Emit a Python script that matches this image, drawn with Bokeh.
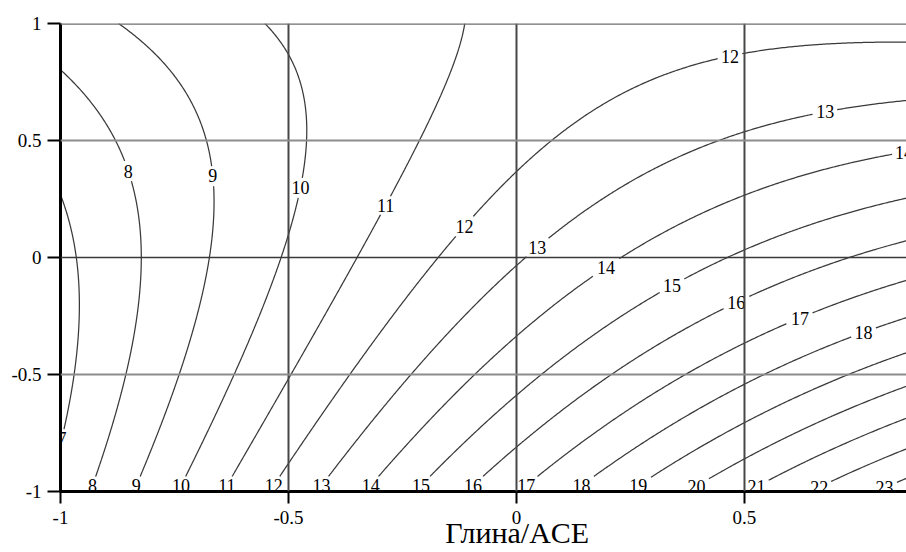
import numpy as np
import contourpy

from bokeh.plotting import figure
from bokeh.models import Range1d, Span, FixedTicker
from bokeh.core.properties import value
from bokeh.embed import file_html
from bokeh.resources import INLINE

# Response surface z = b0 + b1*x + b2*y + b11*x^2 + b22*y^2 + b12*x*y
coef_names = ["b0", "b1", "b2", "b11", "b22", "b12"]
coef_values = [12.90, 5.05, -2.88, -1.10, 1.17, -3.50]

contour_levels = list(range(7, 24))
x_ticks = [-1, -0.5, 0, 0.5]
y_ticks = [-1, -0.5, 0, 0.5, 1]
x_tick_labels = ["-1", "-0.5", "0", "0.5"]
y_tick_labels = ["-1", "-0.5", "0", "0.5", "1"]
x_title = "Глина/ACE"

# model domain and the visible window onto it
DOM_X = (-1.0, 1.0)
DOM_Y = (-1.0, 1.0)
X_MIN, X_MAX = -1.0, 0.8553
Y_MIN, Y_MAX = -1.0, 1.0

W, H = 906, 552
B_LEFT, B_RIGHT, B_TOP, B_BOTTOM = 60, 0, 23, 61
kx = (W - B_LEFT - B_RIGHT) / (X_MAX - X_MIN)   # px per x unit
ky = (H - B_TOP - B_BOTTOM) / (Y_MAX - Y_MIN)   # px per y unit

SERIF = "Liberation Serif"
LABEL_PX = 18          # contour label font size
TICK_PX = 19           # tick label font size
TITLE_PX = 30          # axis title font size
LABEL_STEP = 322.0     # spacing of labels along a contour, px
GAP = 3.0              # clearance round a label, px

# ---- surface on a fine grid -------------------------------------------------
c = dict(zip(coef_names, coef_values))
gx = np.linspace(DOM_X[0], DOM_X[1], 520)
gy = np.linspace(DOM_Y[0], DOM_Y[1], 280)
GX, GY = np.meshgrid(gx, gy)
Z = (c["b0"] + c["b1"] * GX + c["b2"] * GY + c["b11"] * GX ** 2
     + c["b22"] * GY ** 2 + c["b12"] * GX * GY)

gen = contourpy.contour_generator(GX, GY, Z, line_type="Separate")


def to_px(xs, ys):
    return (xs - X_MIN) * kx, (ys - Y_MIN) * ky


line_xs, line_ys = [], []
lab_x, lab_y, lab_t = [], [], []

for lev in contour_levels:
    text = str(lev)
    hw = 0.25 * LABEL_PX * len(text)
    hh = 0.33 * LABEL_PX
    for path in gen.lines(lev):
        path = np.asarray(path)
        if len(path) < 2:
            continue
        # trace every line from its lower end
        if path[0, 1] > path[-1, 1]:
            path = path[::-1]
        px, py = to_px(path[:, 0], path[:, 1])
        s = np.concatenate([[0.0], np.cumsum(np.hypot(np.diff(px), np.diff(py)))])

        j = min(int(np.searchsorted(s, 10.0)), len(s) - 1)
        dx, dy = px[j] - px[0], py[j] - py[0]
        d = np.hypot(dx, dy) or 1.0
        cx, cy = abs(dx) / d, abs(dy) / d
        s0 = min(hw / cx if cx > 1e-6 else np.inf, hh / cy if cy > 1e-6 else np.inf)

        keep = np.ones(len(px), dtype=bool)
        t = s0
        while t <= s[-1]:
            qx = np.interp(t, s, px)
            qy = np.interp(t, s, py)
            keep &= ~((np.abs(px - qx) <= hw + GAP) & (np.abs(py - qy) <= hh + GAP))
            lab_x.append(X_MIN + qx / kx)
            lab_y.append(Y_MIN + qy / ky)
            lab_t.append(text)
            t += LABEL_STEP

        idx = np.flatnonzero(keep)
        if len(idx) == 0:
            continue
        for run in np.split(idx, np.flatnonzero(np.diff(idx) > 1) + 1):
            if len(run) >= 2:
                line_xs.append(path[run, 0].tolist())
                line_ys.append(path[run, 1].tolist())

# ---- figure -----------------------------------------------------------------
p = figure(width=W, height=H, output_backend="svg", toolbar_location=None,
           x_range=Range1d(X_MIN, X_MAX), y_range=Range1d(Y_MIN, Y_MAX),
           min_border_left=B_LEFT, min_border_right=B_RIGHT,
           min_border_top=B_TOP, min_border_bottom=B_BOTTOM)
p.outline_line_color = None
p.background_fill_color = "white"
p.border_fill_color = "white"
p.xgrid.visible = False
p.ygrid.visible = False

p.multi_line(xs=line_xs, ys=line_ys, line_color="#3a3a3a", line_width=1.25)
p.text(x=lab_x, y=lab_y, text=lab_t, text_font=value(SERIF),
       text_font_size=f"{LABEL_PX}px", text_align="center",
       text_baseline="middle", text_color="black")

# reference lines
for xv in [-0.5, 0.0, 0.5]:
    p.add_layout(Span(location=xv, dimension="height", line_color="#474747", line_width=2))
p.add_layout(Span(location=0.0, dimension="width", line_color="#3a3a3a", line_width=1.6))
for yv in [-0.5, 0.5]:
    p.add_layout(Span(location=yv, dimension="width", line_color="#8c8c8c", line_width=2))
p.add_layout(Span(location=1.0, dimension="width", line_color="#6e6e6e", line_width=2.5))

# axes
p.xaxis.ticker = FixedTicker(ticks=x_ticks)
p.yaxis.ticker = FixedTicker(ticks=y_ticks)
p.xaxis.major_label_overrides = {float(v): t for v, t in zip(x_ticks, x_tick_labels)}
p.yaxis.major_label_overrides = {float(v): t for v, t in zip(y_ticks, y_tick_labels)}
for ax in (p.xaxis[0], p.yaxis[0]):
    ax.axis_line_color = "black"
    ax.axis_line_width = 3
    ax.major_tick_line_color = "black"
    ax.major_tick_line_width = 2
    ax.major_tick_in = 0
    ax.minor_tick_line_color = None
    ax.major_label_text_font = SERIF
    ax.major_label_text_font_size = f"{TICK_PX}px"
    ax.major_label_text_color = "black"
p.xaxis.major_tick_out = 12
p.xaxis.major_label_standoff = 7
p.yaxis.major_tick_out = 13
p.yaxis.major_label_standoff = 6

# the title sits under x = 0, the middle of the full -1..1 span; the frame
# ends at 0.855, so no-break spaces push the centred text right
p.xaxis.axis_label = "\u00a0" * 9 + x_title
p.xaxis.axis_label_text_font = SERIF
p.xaxis.axis_label_text_font_size = f"{TITLE_PX}px"
p.xaxis.axis_label_text_font_style = "normal"
p.xaxis.axis_label_text_color = "black"
p.xaxis.axis_label_standoff = -11

open("out.html", "w").write(file_html(p, INLINE))
